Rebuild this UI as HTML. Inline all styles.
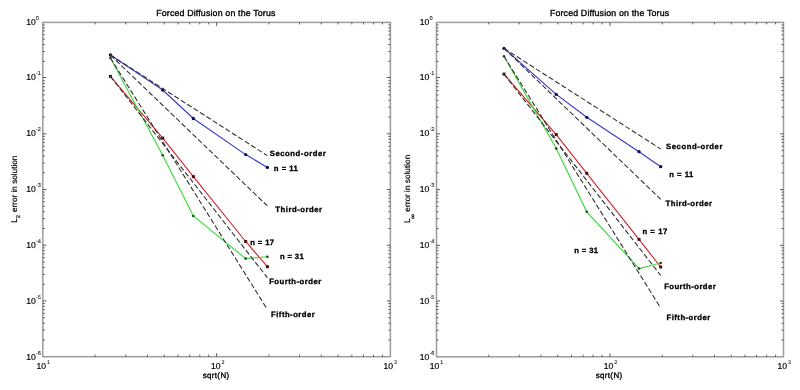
<!DOCTYPE html>
<html><head><meta charset="utf-8"><style>
html,body{margin:0;padding:0;background:#fff;}
svg{display:block;font-family:"Liberation Sans", sans-serif;will-change:transform;}
text{stroke:#000;stroke-width:0.18px;text-rendering:geometricPrecision;}
.bl{stroke-width:0.32px;}
.ti{stroke-width:0.34px;}
.sp{stroke-width:0.1px;fill:#222;stroke:#222;}
</style></head><body>
<svg width="800" height="390" viewBox="0 0 800 390">
<rect width="800" height="390" fill="#fff"/>
<g>
<rect x="42.8" y="22.4" width="347.6" height="334.3" fill="none" stroke="#9c9c9c" stroke-width="1.5"/>
<path d="M95.12 356.7v-2.0M95.12 22.4v2.0M125.72 356.7v-2.0M125.72 22.4v2.0M147.44 356.7v-2.0M147.44 22.4v2.0M164.28 356.7v-2.0M164.28 22.4v2.0M178.04 356.7v-2.0M178.04 22.4v2.0M189.68 356.7v-2.0M189.68 22.4v2.0M199.76 356.7v-2.0M199.76 22.4v2.0M208.65 356.7v-2.0M208.65 22.4v2.0M216.6 356.7v-3.5M216.6 22.4v3.5M268.92 356.7v-2.0M268.92 22.4v2.0M299.52 356.7v-2.0M299.52 22.4v2.0M321.24 356.7v-2.0M321.24 22.4v2.0M338.08 356.7v-2.0M338.08 22.4v2.0M351.84 356.7v-2.0M351.84 22.4v2.0M363.48 356.7v-2.0M363.48 22.4v2.0M373.56 356.7v-2.0M373.56 22.4v2.0M382.45 356.7v-2.0M382.45 22.4v2.0M42.8 77.52h3.5M390.4 77.52h-3.5M42.8 61.34h2.0M390.4 61.34h-2.0M42.8 51.53h2.0M390.4 51.53h-2.0M42.8 44.57h2.0M390.4 44.57h-2.0M42.8 39.17h2.0M390.4 39.17h-2.0M42.8 34.76h2.0M390.4 34.76h-2.0M42.8 31.03h2.0M390.4 31.03h-2.0M42.8 27.8h2.0M390.4 27.8h-2.0M42.8 24.95h2.0M390.4 24.95h-2.0M42.8 133.83h3.5M390.4 133.83h-3.5M42.8 117.06h2.0M390.4 117.06h-2.0M42.8 107.25h2.0M390.4 107.25h-2.0M42.8 100.29h2.0M390.4 100.29h-2.0M42.8 94.89h2.0M390.4 94.89h-2.0M42.8 90.48h2.0M390.4 90.48h-2.0M42.8 86.75h2.0M390.4 86.75h-2.0M42.8 83.52h2.0M390.4 83.52h-2.0M42.8 80.67h2.0M390.4 80.67h-2.0M42.8 189.55h3.5M390.4 189.55h-3.5M42.8 172.78h2.0M390.4 172.78h-2.0M42.8 162.97h2.0M390.4 162.97h-2.0M42.8 156.01h2.0M390.4 156.01h-2.0M42.8 150.61h2.0M390.4 150.61h-2.0M42.8 146.19h2.0M390.4 146.19h-2.0M42.8 142.46h2.0M390.4 142.46h-2.0M42.8 139.23h2.0M390.4 139.23h-2.0M42.8 136.38h2.0M390.4 136.38h-2.0M42.8 245.27h3.5M390.4 245.27h-3.5M42.8 228.49h2.0M390.4 228.49h-2.0M42.8 218.68h2.0M390.4 218.68h-2.0M42.8 211.72h2.0M390.4 211.72h-2.0M42.8 206.32h2.0M390.4 206.32h-2.0M42.8 201.91h2.0M390.4 201.91h-2.0M42.8 198.18h2.0M390.4 198.18h-2.0M42.8 194.95h2.0M390.4 194.95h-2.0M42.8 192.1h2.0M390.4 192.1h-2.0M42.8 300.98h3.5M390.4 300.98h-3.5M42.8 284.21h2.0M390.4 284.21h-2.0M42.8 274.4h2.0M390.4 274.4h-2.0M42.8 267.44h2.0M390.4 267.44h-2.0M42.8 262.04h2.0M390.4 262.04h-2.0M42.8 257.63h2.0M390.4 257.63h-2.0M42.8 253.9h2.0M390.4 253.9h-2.0M42.8 250.67h2.0M390.4 250.67h-2.0M42.8 247.82h2.0M390.4 247.82h-2.0M42.8 339.93h2.0M390.4 339.93h-2.0M42.8 330.12h2.0M390.4 330.12h-2.0M42.8 323.16h2.0M390.4 323.16h-2.0M42.8 317.76h2.0M390.4 317.76h-2.0M42.8 313.34h2.0M390.4 313.34h-2.0M42.8 309.61h2.0M390.4 309.61h-2.0M42.8 306.38h2.0M390.4 306.38h-2.0M42.8 303.53h2.0M390.4 303.53h-2.0" stroke="#5a5a5a" stroke-width="1" fill="none"/>
<polyline points="110.41,55 162.74,90 193.34,118.5 245.66,154.6 267.38,167.4" fill="none" stroke="#3a3ac8" stroke-width="1.15"/>
<circle cx="110.41" cy="55" r="1.65" fill="#0a0a4a"/>
<circle cx="162.74" cy="90" r="1.65" fill="#0a0a4a"/>
<circle cx="193.34" cy="118.5" r="1.65" fill="#0a0a4a"/>
<circle cx="245.66" cy="154.6" r="1.65" fill="#0a0a4a"/>
<circle cx="267.38" cy="167.4" r="1.65" fill="#0a0a4a"/>
<polyline points="110.41,76.4 162.74,138.1 193.34,176.6 245.66,241.5 267.38,266.7" fill="none" stroke="#d02a30" stroke-width="1.15"/>
<rect x="108.91" y="74.9" width="3" height="3" fill="#4a0a10"/>
<rect x="161.24" y="136.6" width="3" height="3" fill="#4a0a10"/>
<rect x="191.84" y="175.1" width="3" height="3" fill="#4a0a10"/>
<rect x="244.16" y="240" width="3" height="3" fill="#4a0a10"/>
<rect x="265.88" y="265.2" width="3" height="3" fill="#4a0a10"/>
<polyline points="110.41,57.9 162.74,155.3 193.34,216 245.66,258.6 267.38,256.8" fill="none" stroke="#3cd83c" stroke-width="1.15"/>
<circle cx="110.41" cy="57.9" r="1.3" fill="#0e4e0e"/>
<circle cx="162.74" cy="155.3" r="1.3" fill="#0e4e0e"/>
<circle cx="193.34" cy="216" r="1.3" fill="#0e4e0e"/>
<circle cx="245.66" cy="258.6" r="1.3" fill="#0e4e0e"/>
<circle cx="267.38" cy="256.8" r="1.3" fill="#0e4e0e"/>
<line x1="110.41" y1="55" x2="267.38" y2="155.64" stroke="#333" stroke-width="1.1" stroke-dasharray="5.2 2.4"/>
<line x1="110.41" y1="55" x2="267.38" y2="205.97" stroke="#333" stroke-width="1.1" stroke-dasharray="5.2 2.4"/>
<line x1="110.41" y1="76.4" x2="267.38" y2="277.69" stroke="#333" stroke-width="1.1" stroke-dasharray="5.2 2.4"/>
<line x1="110.41" y1="57.9" x2="267.38" y2="309.51" stroke="#333" stroke-width="1.1" stroke-dasharray="5.2 2.4"/>
<text x="269.75" y="155.9" font-weight="bold" font-size="7.7" textLength="56.1" lengthAdjust="spacing" class="bl">Second-order</text>
<text x="273.85" y="171.3" font-weight="bold" font-size="7.7" textLength="24" lengthAdjust="spacing" class="bl">n = 11</text>
<text x="275.25" y="211.9" font-weight="bold" font-size="7.7" textLength="46.8" lengthAdjust="spacing" class="bl">Third-order</text>
<text x="250.15" y="244.6" font-weight="bold" font-size="7.7" textLength="24" lengthAdjust="spacing" class="bl">n = 17</text>
<text x="280.05" y="259" font-weight="bold" font-size="7.7" textLength="23.7" lengthAdjust="spacing" class="bl">n = 31</text>
<text x="269.15" y="284.4" font-weight="bold" font-size="7.7" textLength="52" lengthAdjust="spacing" class="bl">Fourth-order</text>
<text x="271.05" y="317" font-weight="bold" font-size="7.7" textLength="43.7" lengthAdjust="spacing" class="bl">Fifth-order</text>
<text x="156.2" y="15.8" font-size="8.8" textLength="119.2" lengthAdjust="spacing" class="ti">Forced Diffusion on the Torus</text>
<text x="46" y="368.8" font-size="8.6" text-anchor="end">10</text><text x="46.9" y="363.6" font-size="5.3" class="sp">1</text>
<text x="220.5" y="368.8" font-size="8.6" text-anchor="end">10</text><text x="221.4" y="363.6" font-size="5.3" class="sp">2</text>
<text x="393" y="368.8" font-size="8.6" text-anchor="end">10</text><text x="393.9" y="363.6" font-size="5.3" class="sp">3</text>
<text x="202.7" y="377.6" font-size="7.9" textLength="26.4" lengthAdjust="spacing" class="ti">sqrt(N)</text>
<text x="35.7" y="25.05" font-size="8.6" text-anchor="end">10</text><text x="35.8" y="20.15" font-size="5.6" class="sp">0</text>
<text x="35.7" y="80.1" font-size="8.6" text-anchor="end">10</text><text x="35.8" y="75.2" font-size="5.6" class="sp">-1</text>
<text x="35.7" y="135.8" font-size="8.6" text-anchor="end">10</text><text x="35.8" y="130.9" font-size="5.6" class="sp">-2</text>
<text x="35.7" y="191.8" font-size="8.6" text-anchor="end">10</text><text x="35.8" y="186.9" font-size="5.6" class="sp">-3</text>
<text x="35.7" y="247.8" font-size="8.6" text-anchor="end">10</text><text x="35.8" y="242.9" font-size="5.6" class="sp">-4</text>
<text x="35.7" y="303.8" font-size="8.6" text-anchor="end">10</text><text x="35.8" y="298.9" font-size="5.6" class="sp">-5</text>
<text x="35.7" y="359.7" font-size="8.6" text-anchor="end">10</text><text x="35.8" y="354.8" font-size="5.6" class="sp">-6</text>
<g transform="translate(17,222.2) rotate(-90)"><text x="-0.6" y="0" font-size="8.4">L</text><text x="4" y="3.3" font-size="5.8">2</text><text x="10.1" y="0" font-size="8.1" textLength="56.5" lengthAdjust="spacingAndGlyphs">error in solution</text></g>
<rect x="436.5" y="22.4" width="347" height="334.4" fill="none" stroke="#9c9c9c" stroke-width="1.5"/>
<path d="M488.73 356.8v-2.0M488.73 22.4v2.0M519.28 356.8v-2.0M519.28 22.4v2.0M540.96 356.8v-2.0M540.96 22.4v2.0M557.77 356.8v-2.0M557.77 22.4v2.0M571.51 356.8v-2.0M571.51 22.4v2.0M583.12 356.8v-2.0M583.12 22.4v2.0M593.19 356.8v-2.0M593.19 22.4v2.0M602.06 356.8v-2.0M602.06 22.4v2.0M610 356.8v-3.5M610 22.4v3.5M662.23 356.8v-2.0M662.23 22.4v2.0M692.78 356.8v-2.0M692.78 22.4v2.0M714.46 356.8v-2.0M714.46 22.4v2.0M731.27 356.8v-2.0M731.27 22.4v2.0M745.01 356.8v-2.0M745.01 22.4v2.0M756.62 356.8v-2.0M756.62 22.4v2.0M766.69 356.8v-2.0M766.69 22.4v2.0M775.56 356.8v-2.0M775.56 22.4v2.0M436.5 77.53h3.5M783.5 77.53h-3.5M436.5 61.36h2.0M783.5 61.36h-2.0M436.5 51.54h2.0M783.5 51.54h-2.0M436.5 44.58h2.0M783.5 44.58h-2.0M436.5 39.18h2.0M783.5 39.18h-2.0M436.5 34.76h2.0M783.5 34.76h-2.0M436.5 31.03h2.0M783.5 31.03h-2.0M436.5 27.8h2.0M783.5 27.8h-2.0M436.5 24.95h2.0M783.5 24.95h-2.0M436.5 133.87h3.5M783.5 133.87h-3.5M436.5 117.09h2.0M783.5 117.09h-2.0M436.5 107.28h2.0M783.5 107.28h-2.0M436.5 100.31h2.0M783.5 100.31h-2.0M436.5 94.91h2.0M783.5 94.91h-2.0M436.5 90.5h2.0M783.5 90.5h-2.0M436.5 86.77h2.0M783.5 86.77h-2.0M436.5 83.53h2.0M783.5 83.53h-2.0M436.5 80.68h2.0M783.5 80.68h-2.0M436.5 189.6h3.5M783.5 189.6h-3.5M436.5 172.82h2.0M783.5 172.82h-2.0M436.5 163.01h2.0M783.5 163.01h-2.0M436.5 156.05h2.0M783.5 156.05h-2.0M436.5 150.64h2.0M783.5 150.64h-2.0M436.5 146.23h2.0M783.5 146.23h-2.0M436.5 142.5h2.0M783.5 142.5h-2.0M436.5 139.27h2.0M783.5 139.27h-2.0M436.5 136.42h2.0M783.5 136.42h-2.0M436.5 245.33h3.5M783.5 245.33h-3.5M436.5 228.56h2.0M783.5 228.56h-2.0M436.5 218.74h2.0M783.5 218.74h-2.0M436.5 211.78h2.0M783.5 211.78h-2.0M436.5 206.38h2.0M783.5 206.38h-2.0M436.5 201.96h2.0M783.5 201.96h-2.0M436.5 198.23h2.0M783.5 198.23h-2.0M436.5 195h2.0M783.5 195h-2.0M436.5 192.15h2.0M783.5 192.15h-2.0M436.5 301.07h3.5M783.5 301.07h-3.5M436.5 284.29h2.0M783.5 284.29h-2.0M436.5 274.48h2.0M783.5 274.48h-2.0M436.5 267.51h2.0M783.5 267.51h-2.0M436.5 262.11h2.0M783.5 262.11h-2.0M436.5 257.7h2.0M783.5 257.7h-2.0M436.5 253.97h2.0M783.5 253.97h-2.0M436.5 250.73h2.0M783.5 250.73h-2.0M436.5 247.88h2.0M783.5 247.88h-2.0M436.5 340.02h2.0M783.5 340.02h-2.0M436.5 330.21h2.0M783.5 330.21h-2.0M436.5 323.25h2.0M783.5 323.25h-2.0M436.5 317.84h2.0M783.5 317.84h-2.0M436.5 313.43h2.0M783.5 313.43h-2.0M436.5 309.7h2.0M783.5 309.7h-2.0M436.5 306.47h2.0M783.5 306.47h-2.0M436.5 303.62h2.0M783.5 303.62h-2.0" stroke="#5a5a5a" stroke-width="1" fill="none"/>
<polyline points="503.99,48.3 556.23,94.4 586.78,117.3 639.01,151.7 660.69,166.7" fill="none" stroke="#3a3ac8" stroke-width="1.15"/>
<circle cx="503.99" cy="48.3" r="1.65" fill="#0a0a4a"/>
<circle cx="556.23" cy="94.4" r="1.65" fill="#0a0a4a"/>
<circle cx="586.78" cy="117.3" r="1.65" fill="#0a0a4a"/>
<circle cx="639.01" cy="151.7" r="1.65" fill="#0a0a4a"/>
<circle cx="660.69" cy="166.7" r="1.65" fill="#0a0a4a"/>
<polyline points="503.99,74.1 556.23,134.6 586.78,173.3 639.01,239.4 660.69,267" fill="none" stroke="#d02a30" stroke-width="1.15"/>
<rect x="502.49" y="72.6" width="3" height="3" fill="#4a0a10"/>
<rect x="554.73" y="133.1" width="3" height="3" fill="#4a0a10"/>
<rect x="585.28" y="171.8" width="3" height="3" fill="#4a0a10"/>
<rect x="637.51" y="237.9" width="3" height="3" fill="#4a0a10"/>
<rect x="659.19" y="265.5" width="3" height="3" fill="#4a0a10"/>
<polyline points="503.99,56.3 556.23,148.5 586.78,211.8 639.01,268.5 660.69,263" fill="none" stroke="#3cd83c" stroke-width="1.15"/>
<circle cx="503.99" cy="56.3" r="1.3" fill="#0e4e0e"/>
<circle cx="556.23" cy="148.5" r="1.3" fill="#0e4e0e"/>
<circle cx="586.78" cy="211.8" r="1.3" fill="#0e4e0e"/>
<circle cx="639.01" cy="268.5" r="1.3" fill="#0e4e0e"/>
<circle cx="660.69" cy="263" r="1.3" fill="#0e4e0e"/>
<line x1="503.99" y1="48.3" x2="660.69" y2="148.97" stroke="#333" stroke-width="1.1" stroke-dasharray="5.2 2.4"/>
<line x1="503.99" y1="48.3" x2="660.69" y2="199.31" stroke="#333" stroke-width="1.1" stroke-dasharray="5.2 2.4"/>
<line x1="503.99" y1="74.1" x2="660.69" y2="275.45" stroke="#333" stroke-width="1.1" stroke-dasharray="5.2 2.4"/>
<line x1="503.99" y1="56.3" x2="660.69" y2="307.99" stroke="#333" stroke-width="1.1" stroke-dasharray="5.2 2.4"/>
<text x="666.05" y="149.1" font-weight="bold" font-size="7.7" textLength="56.4" lengthAdjust="spacing" class="bl">Second-order</text>
<text x="669.25" y="177" font-weight="bold" font-size="7.7" textLength="24.1" lengthAdjust="spacing" class="bl">n = 11</text>
<text x="665.55" y="205.5" font-weight="bold" font-size="7.7" textLength="46.5" lengthAdjust="spacing" class="bl">Third-order</text>
<text x="642.4" y="233.75" font-weight="bold" font-size="7.7" textLength="24.85" lengthAdjust="spacing" class="bl">n = 17</text>
<text x="574.25" y="253.1" font-weight="bold" font-size="7.7" textLength="23.9" lengthAdjust="spacing" class="bl">n = 31</text>
<text x="664.15" y="288.5" font-weight="bold" font-size="7.7" textLength="51.6" lengthAdjust="spacing" class="bl">Fourth-order</text>
<text x="666.55" y="319.6" font-weight="bold" font-size="7.7" textLength="43.6" lengthAdjust="spacing" class="bl">Fifth-order</text>
<text x="549.9" y="15.8" font-size="8.8" textLength="119.2" lengthAdjust="spacing" class="ti">Forced Diffusion on the Torus</text>
<text x="439.4" y="368.8" font-size="8.6" text-anchor="end">10</text><text x="440.3" y="363.6" font-size="5.3" class="sp">1</text>
<text x="613.4" y="368.8" font-size="8.6" text-anchor="end">10</text><text x="614.3" y="363.6" font-size="5.3" class="sp">2</text>
<text x="787" y="368.8" font-size="8.6" text-anchor="end">10</text><text x="787.9" y="363.6" font-size="5.3" class="sp">3</text>
<text x="595.7" y="377.6" font-size="7.9" textLength="26.4" lengthAdjust="spacing" class="ti">sqrt(N)</text>
<text x="429.4" y="25.05" font-size="8.6" text-anchor="end">10</text><text x="429.5" y="20.15" font-size="5.6" class="sp">0</text>
<text x="429.4" y="80.1" font-size="8.6" text-anchor="end">10</text><text x="429.5" y="75.2" font-size="5.6" class="sp">-1</text>
<text x="429.4" y="135.8" font-size="8.6" text-anchor="end">10</text><text x="429.5" y="130.9" font-size="5.6" class="sp">-2</text>
<text x="429.4" y="191.8" font-size="8.6" text-anchor="end">10</text><text x="429.5" y="186.9" font-size="5.6" class="sp">-3</text>
<text x="429.4" y="247.8" font-size="8.6" text-anchor="end">10</text><text x="429.5" y="242.9" font-size="5.6" class="sp">-4</text>
<text x="429.4" y="303.8" font-size="8.6" text-anchor="end">10</text><text x="429.5" y="298.9" font-size="5.6" class="sp">-5</text>
<text x="429.4" y="359.7" font-size="8.6" text-anchor="end">10</text><text x="429.5" y="354.8" font-size="5.6" class="sp">-6</text>
<g transform="translate(409.9,222.5) rotate(-90)"><text x="-0.6" y="0" font-size="8.4">L</text><text x="3.4" y="4.6" font-size="7.2">∞</text><text x="10.8" y="0" font-size="8.1" textLength="57" lengthAdjust="spacingAndGlyphs">error in solution</text></g>
</g>
</svg>
</body></html>
